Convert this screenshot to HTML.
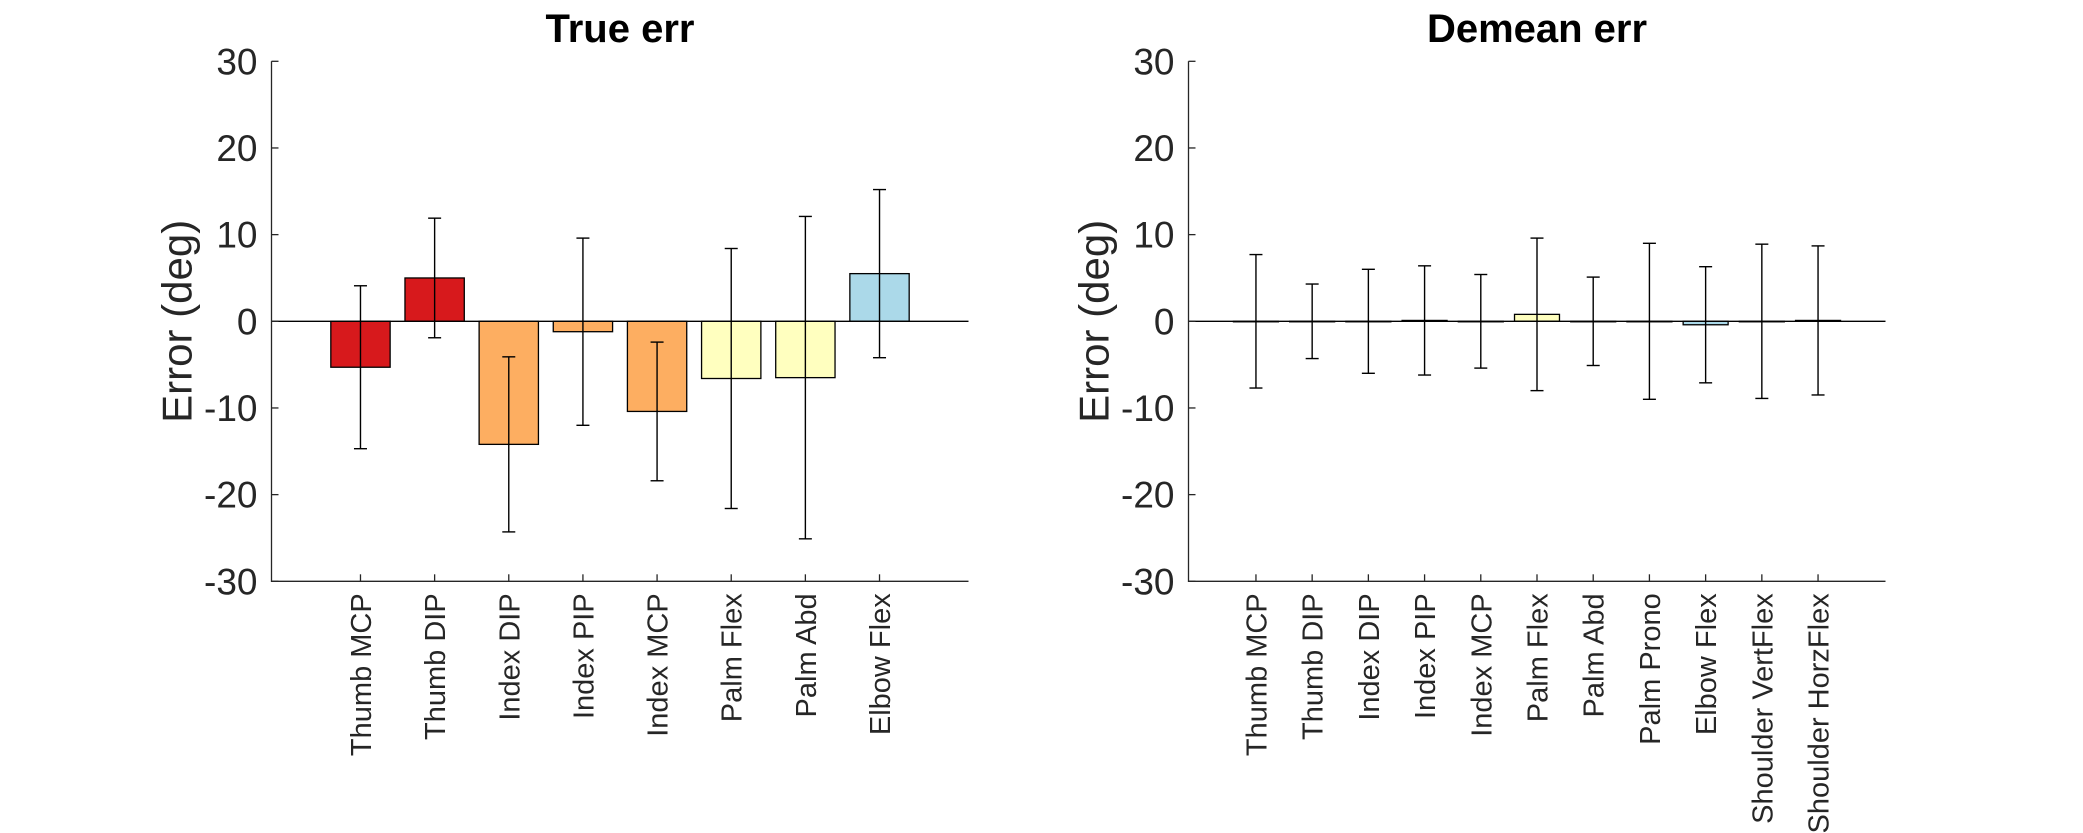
<!DOCTYPE html>
<html><head><meta charset="utf-8"><style>
body{margin:0;background:#fff}
svg{display:block;font-family:"Liberation Sans",Arial,sans-serif}
</style></head><body>
<svg id="fig" width="2083" height="833" viewBox="0 0 2083 833" xmlns="http://www.w3.org/2000/svg"></svg>
<script>
const trueCats = ["Thumb MCP","Thumb DIP","Index DIP","Index PIP","Index MCP","Palm Flex","Palm Abd","Elbow Flex"];
const trueVals = [-5.3, 5.0, -14.2, -1.2, -10.4, -6.6, -6.5, 5.5];
const trueErrs = [9.4, 6.9, 10.1, 10.8, 8.0, 15.0, 18.6, 9.7];
const trueColors = ["#d7191c","#d7191c","#fdae61","#fdae61","#fdae61","#ffffbf","#ffffbf","#abd9e9"];
const demCats = ["Thumb MCP","Thumb DIP","Index DIP","Index PIP","Index MCP","Palm Flex","Palm Abd","Palm Prono","Elbow Flex","Shoulder VertFlex","Shoulder HorzFlex"];
const demVals = [0, 0, 0, 0.1, 0, 0.8, 0, 0, -0.4, 0, 0.1];
const demErrs = [7.7, 4.3, 6.0, 6.3, 5.4, 8.8, 5.1, 9.0, 6.7, 8.9, 8.6];
const demColors = ["#d7191c","#d7191c","#fdae61","#fdae61","#fdae61","#ffffbf","#ffffbf","#ffffbf","#abd9e9","#2c7bb6","#2c7bb6"];
const yTicks = [-30,-20,-10,0,10,20,30];
const titles = ["True err","Demean err"];

const NS="http://www.w3.org/2000/svg";
const svg=document.getElementById('fig');
function mk(tag,attrs,parent){const e=document.createElementNS(NS,tag);for(const k in attrs)e.setAttribute(k,attrs[k]);(parent||svg).appendChild(e);return e;}

function drawPanel(idx,left,cats,vals,errs,colors){
  const right=left+697, top=61.3, bottom=581.3;
  const g=mk('g',{});
  
  
  const n=cats.length, xmin=-0.2, xmax=n+1.2;
  const xs=i=>left+((i+1)-xmin)/(xmax-xmin)*(right-left);
  const ys=v=>top+(30-v)/60*(bottom-top);
  const step=xs(1)-xs(0);
  // bars
  vals.forEach((v,i)=>{
    const y0=ys(0), y1=ys(v), bw=0.8*step;
    const r=mk('rect',{x:xs(i)-bw/2,y:Math.min(y0,y1),width:bw,height:Math.max(Math.abs(y1-y0),0.5),fill:colors[i],stroke:'#000','stroke-width':1.3},g);
    
    
  });
  // zero line
  const zl=mk('line',{x1:left,x2:right,y1:ys(0),y2:ys(0),stroke:'#000','stroke-width':1.3},g);
  
  
  // error bars
  vals.forEach((v,i)=>{
    const eg=mk('g',{stroke:'#000','stroke-width':1.4},g);
    
    
    const x=xs(i), hi=ys(v+errs[i]), lo=ys(v-errs[i]), c=6.5;
    mk('line',{x1:x,x2:x,y1:hi,y2:lo},eg);
    mk('line',{x1:x-c,x2:x+c,y1:hi,y2:hi},eg);
    mk('line',{x1:x-c,x2:x+c,y1:lo,y2:lo},eg);
  });
  // axes
  const ax=mk('path',{d:`M${left},${top}V${bottom}H${right}`,fill:'none',stroke:'#262626','stroke-width':1.3},g);
  
  
  yTicks.forEach(t=>{
    mk('line',{x1:left,x2:left+7,y1:ys(t),y2:ys(t),stroke:'#262626','stroke-width':1.3},g);
    const tx=mk('text',{x:left-14,y:ys(t)+13,'text-anchor':'end','font-size':37,fill:'#262626'},g);
    tx.textContent=t;
    
    
  });
  cats.forEach((c,i)=>{
    const x=xs(i);
    mk('line',{x1:x,x2:x,y1:bottom,y2:bottom-7,stroke:'#262626','stroke-width':1.3},g);
    const tx=mk('text',{transform:`translate(${x+10.5},${bottom+12}) rotate(-90)`,'text-anchor':'end','font-size':29,fill:'#262626'},g);
    tx.textContent=c;
    
    
  });
  const yl=mk('text',{transform:`translate(${left-80},${(top+bottom)/2}) rotate(-90)`,'text-anchor':'middle','font-size':42,fill:'#262626'},g);
  yl.textContent='Error (deg)';
  
  
  const ti=mk('text',{x:(left+right)/2,y:42,'text-anchor':'middle','font-size':40,'font-weight':'bold',fill:'#000'},g);
  ti.textContent=titles[idx];
  
  
}
drawPanel(0,271.5,trueCats,trueVals,trueErrs,trueColors);
drawPanel(1,1188.5,demCats,demVals,demErrs,demColors);
</script>
</body></html>
